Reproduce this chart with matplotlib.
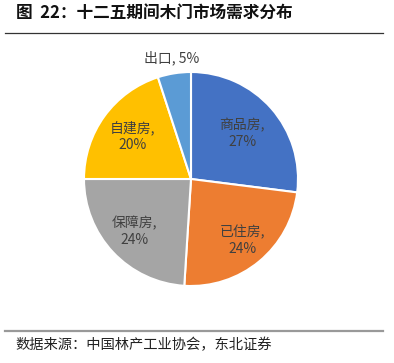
import numpy as np
import matplotlib
matplotlib.use('Agg')
import matplotlib.pyplot as plt
from matplotlib.lines import Line2D

plt.rcParams['font.family'] = ['Noto Sans CJK SC', 'DejaVu Sans']

# data
categories = ['商品房', '已住房', '保障房', '自建房', '出口']
shares = [27, 24, 24, 20, 5]
label_text = ['商品房,\n27%', '已住房,\n24%', '保障房,\n24%', '自建房,\n20%', '出口, 5%']

colors = ['#4472C4', '#ED7D31', '#A5A5A5', '#FFC000', '#5B9BD5']
label_dist = [0.64, 0.75, 0.72, 0.68, 1.15]

fig = plt.figure(figsize=(3.94, 3.63), dpi=100)

# pie axes: center (191,179) px, radius 107 px
ax = fig.add_axes([84 / 394, (363 - 179 - 107) / 363, 214 / 394, 214 / 363])
wedges, _ = ax.pie(shares, colors=colors, startangle=90, counterclock=False,
                   radius=1, wedgeprops=dict(edgecolor='white', linewidth=1.5))
ax.set_xlim(-1, 1)
ax.set_ylim(-1, 1)
ax.set_aspect('equal')
ax.axis('off')

for w, txt, d in zip(wedges, label_text, label_dist):
    ang = np.deg2rad((w.theta1 + w.theta2) / 2)
    ax.text(d * np.cos(ang), d * np.sin(ang), txt, ha='center', va='center',
            fontsize=10, color='#404040', linespacing=1.25, clip_on=False)

# title and rules
fig.text(16 / 394, 1 - 13 / 363, '图  22：十二五期间木门市场需求分布', fontsize=12,
         fontweight='bold', ha='left', va='center', color='#111111')
fig.add_artist(Line2D([5 / 394, 383 / 394], [1 - 33 / 363, 1 - 33 / 363],
                      color='#333333', linewidth=0.9))
fig.add_artist(Line2D([5 / 394, 383 / 394], [1 - 331 / 363, 1 - 331 / 363],
                      color='#999999', linewidth=1.6))
fig.text(15 / 394, 1 - 345 / 363, '数据来源：中国林产工业协会，东北证券', fontsize=10.3,
         ha='left', va='center', color='#222222')

fig.savefig('out.png', dpi=100)
